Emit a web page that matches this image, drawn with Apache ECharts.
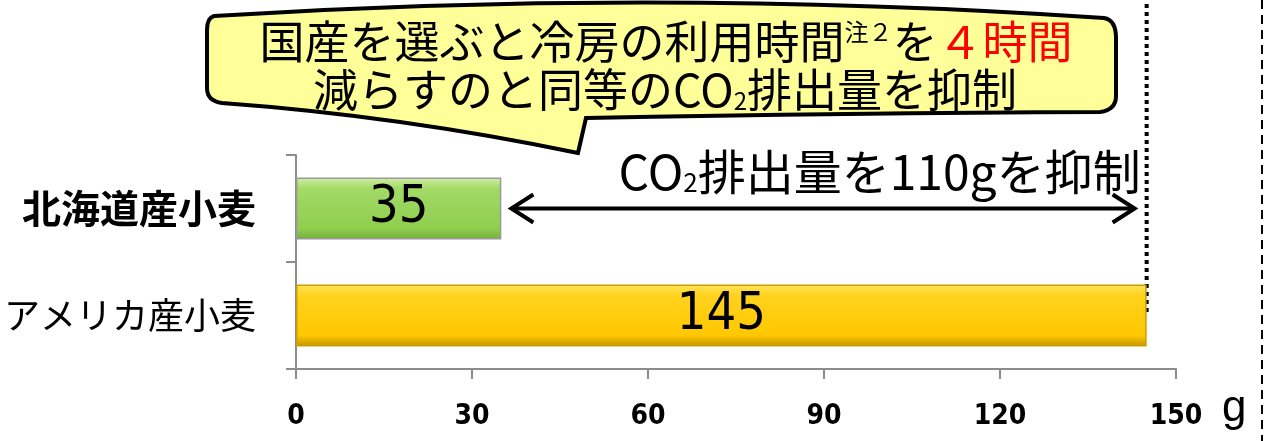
<!DOCTYPE html>
<html lang="ja" style="height: 100%">

<head>
  <meta charset="utf-8">
</head>

<body style="height: 100%; margin: 0; background: #fff">
  <div id="container" style="width: 1270px; height: 441px"></div>

  <script type="text/javascript" src="https://fastly.jsdelivr.net/npm/echarts@6.0.0/dist/echarts.min.js"></script>
  <script type="text/javascript">
    // 産地ごとの小麦のCO2排出量 (g)
    var categories = ['アメリカ産小麦', '北海道産小麦'];
    var values = [145, 35];
    var xTicks = [0, 30, 60, 90, 120, 150];

    var jp = "'Noto Sans CJK JP', sans-serif";
    var narrow = "'Liberation Sans Narrow', 'DejaVu Sans Condensed', sans-serif";

    var barColors = [
      // アメリカ産 (黄)
      new echarts.graphic.LinearGradient(0, 0, 0, 1, [
        { offset: 0, color: '#ffe55a' },
        { offset: 0.18, color: '#ffd21e' },
        { offset: 0.82, color: '#ffc800' },
        { offset: 1, color: '#c29500' }
      ]),
      // 北海道産 (緑)
      new echarts.graphic.LinearGradient(0, 0, 0, 1, [
        { offset: 0, color: '#d2efa6' },
        { offset: 0.18, color: '#a2da66' },
        { offset: 0.82, color: '#8fce4e' },
        { offset: 1, color: '#74ad3c' }
      ])
    ];
    var barBorders = ['#caa000', '#9a9a9a'];

    // 吹き出しの形
    echarts.graphic.registerShape('callout', echarts.graphic.extendShape({
      shape: {},
      buildPath: function (ctx) {
        ctx.moveTo(214, 16);
        ctx.quadraticCurveTo(660, -12, 1104, 18);
        ctx.quadraticCurveTo(1116, 20, 1116, 38);
        ctx.lineTo(1116, 96);
        ctx.quadraticCurveTo(1116, 110, 1100, 112);
        ctx.quadraticCurveTo(850, 113, 586, 118);
        ctx.lineTo(578, 153);
        ctx.quadraticCurveTo(400, 116, 222, 103);
        ctx.quadraticCurveTo(207, 101, 207, 88);
        ctx.lineTo(207, 30);
        ctx.quadraticCurveTo(207, 18, 214, 16);
        ctx.closePath();
      }
    }));

    var dom = document.getElementById('container');
    var myChart = echarts.init(dom, null, { renderer: 'canvas' });

    var option = {
      animation: false,
      grid: {
        left: 296,
        right: 94,
        top: 155,
        bottom: 72
      },
      xAxis: {
        type: 'value',
        min: xTicks[0],
        max: xTicks[xTicks.length - 1],
        interval: xTicks[1] - xTicks[0],
        name: 'g',
        nameLocation: 'end',
        nameGap: 46,
        nameTextStyle: {
          fontSize: 44,
          color: '#000',
          fontFamily: 'Liberation Sans, sans-serif',
          verticalAlign: 'top',
          padding: [18, 0, 0, 0]
        },
        axisLine: { show: true, lineStyle: { color: '#8c8c8c', width: 2 } },
        axisTick: { show: true, length: 10, lineStyle: { color: '#8c8c8c', width: 2 } },
        splitLine: { show: false },
        axisLabel: {
          margin: 34,
          fontSize: 28,
          fontWeight: 'bold',
          color: '#000',
          fontFamily: narrow
        }
      },
      yAxis: {
        type: 'category',
        data: categories.map(function (c, i) {
          return i === 1 ? { value: c, textStyle: { fontWeight: 'bold', fontSize: 39 } } : c;
        }),
        axisLine: { show: true, lineStyle: { color: '#8c8c8c', width: 2 } },
        axisTick: { show: true, length: 10, lineStyle: { color: '#8c8c8c', width: 2 } },
        axisLabel: {
          margin: 40,
          fontSize: 36,
          color: '#000',
          fontFamily: jp
        }
      },
      series: [
        {
          type: 'bar',
          barWidth: 62,
          z: 3,
          data: values.map(function (v, i) {
            return {
              value: v,
              itemStyle: { color: barColors[i], borderColor: barBorders[i], borderWidth: 1.5 }
            };
          }),
          label: {
            show: true,
            position: 'inside',
            fontSize: 52,
            color: '#000',
            fontFamily: narrow
          }
        }
      ]
    };

    myChart.setOption(option);

    // 吹き出し・矢印などの注記
    function placeNotes() {
      var xHk = myChart.convertToPixel({ xAxisIndex: 0 }, values[1]);
      var xUs = myChart.convertToPixel({ xAxisIndex: 0 }, values[0]);
      var yHk = myChart.convertToPixel({ yAxisIndex: 0 }, categories[1]);
      var yUs = myChart.convertToPixel({ yAxisIndex: 0 }, categories[0]);
      var x0 = xHk + 10, x1 = xUs - 12;
      var diff = values[0] - values[1];

      myChart.setOption({
        graphic: [
          {
            id: 'callout',
            type: 'callout',
            z: 10,
            style: { fill: '#ffff99', stroke: '#000', lineWidth: 4 }
          },
          {
            id: 'line1',
            type: 'text',
            z: 11,
            x: 666,
            y: 42,
            style: {
              text: '国産を選ぶと冷房の利用時間{sup|注２}を{r|４時間}',
              align: 'center',
              verticalAlign: 'middle',
              fontSize: 45,
              fontFamily: jp,
              fill: '#000',
              rich: {
                sup: { fontSize: 24, fontFamily: jp, verticalAlign: 'top', padding: [0, 0, 16, 0] },
                r: { fontSize: 45, fontFamily: jp, fill: '#ff0000', color: '#ff0000' }
              }
            }
          },
          {
            id: 'line2',
            type: 'text',
            z: 11,
            x: 665,
            y: 90,
            style: {
              text: '減らすのと同等のCO{sub|2}排出量を抑制',
              align: 'center',
              verticalAlign: 'middle',
              fontSize: 45,
              fontFamily: jp,
              fill: '#000',
              rich: {
                sub: { fontSize: 24, fontFamily: jp, verticalAlign: 'bottom' }
              }
            }
          },
          {
            id: 'dotted',
            type: 'line',
            z: 1,
            shape: { x1: xUs, y1: 4, x2: xUs, y2: yUs },
            style: { stroke: '#000', lineWidth: 4, lineDash: [4, 4] }
          },
          {
            id: 'edge',
            type: 'line',
            z: 1,
            shape: { x1: 1262, y1: 0, x2: 1262, y2: 441 },
            style: { stroke: '#000', lineWidth: 2, lineDash: [9, 6] }
          },
          {
            id: 'arrow',
            type: 'group',
            z: 5,
            children: [
              {
                type: 'line',
                shape: { x1: x0 + 2, y1: yHk, x2: x1 - 2, y2: yHk },
                style: { stroke: '#000', lineWidth: 4 }
              },
              {
                type: 'polyline',
                shape: { points: [[x0 + 22, yHk - 14], [x0, yHk], [x0 + 22, yHk + 14]] },
                style: { stroke: '#000', lineWidth: 4, fill: null }
              },
              {
                type: 'polyline',
                shape: { points: [[x1 - 22, yHk - 14], [x1, yHk], [x1 - 22, yHk + 14]] },
                style: { stroke: '#000', lineWidth: 4, fill: null }
              }
            ]
          },
          {
            id: 'diffText',
            type: 'text',
            z: 5,
            x: xUs - 6,
            y: yHk - 37,
            style: {
              text: 'CO{sub|2}排出量を' + diff + 'gを抑制',
              align: 'right',
              verticalAlign: 'middle',
              fontSize: 48,
              fontFamily: jp,
              fill: '#000',
              rich: {
                sub: { fontSize: 26, fontFamily: jp, verticalAlign: 'bottom' }
              }
            }
          }
        ]
      });
    }

    placeNotes();
    window.addEventListener('resize', function () {
      myChart.resize();
      placeNotes();
    });
  </script>
</body>

</html>
